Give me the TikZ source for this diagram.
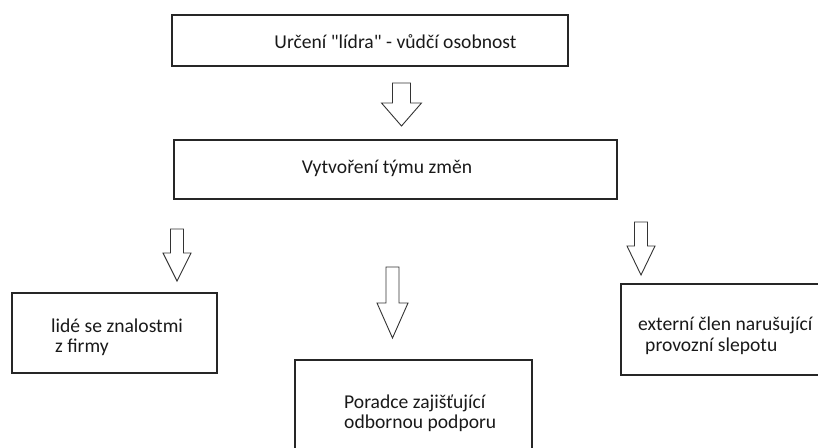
\documentclass[tikz,border=0pt]{standalone}
\usepackage{fontspec}
\setmainfont{Carlito}[Ligatures=TeXOff]
\begin{document}
\begin{tikzpicture}[x=1pt,y=-1pt,
  box/.style={draw=black!85, line width=1.1pt, inner sep=0pt},
  txt/.style={inner sep=0pt, anchor=base west, text=black!90, align=left,
    font=\fontsize{19.6}{19.5}\selectfont},
  blockarrow/.style={draw=black!80, line width=0.9pt, fill=white, line join=miter}]
\useasboundingbox (0,0) rectangle (818,447);
\clip (0,0) rectangle (818,447);

% boxes
\node[box, minimum width=396pt, minimum height=51pt] (lead) at (370,40.5) {};
\node[box, minimum width=443pt, minimum height=59pt] (team) at (395.5,169.5) {};
\node[box, minimum width=205pt, minimum height=80pt] (inner) at (114.5,333) {};
\node[box, minimum width=237pt, minimum height=110pt] (advisor) at (413.5,415) {};
\node[box, minimum width=230pt, minimum height=91pt] (external) at (736,329.5) {};

% labels (multi-line labels are placed by the baseline of their last line)
\node[txt, anchor=base] (leadtxt) at (395.5,48) {Určení "lídra" - vůdčí osobnost};
\node[txt, anchor=base] (teamtxt) at (387,173) {Vytvoření týmu změn};
\node[txt] (innertxt) at (51,352) {lidé se znalostmi\\\hspace*{4pt}z firmy};
\node[txt, font=\fontsize{19.6}{20}\selectfont] (advisortxt) at (344,428) {Poradce zajišťující\\odbornou podporu};
\node[txt, font=\fontsize{19.6}{21}\selectfont] (externaltxt) at (638,351) {externí člen narušující\\\hspace*{7pt}provozní slepotu};

% hollow block arrows: centre x, shaft half width, head half width, top, head start, tip
\newcommand{\downblock}[6]{%
  \draw[blockarrow] (#1-#2,#4) -- (#1-#2,#5) -- (#1-#3,#5) -- (#1,#6)
    -- (#1+#3,#5) -- (#1+#2,#5) -- (#1+#2,#4) -- cycle;}
\downblock{401.5}{9}{20}{83}{103}{126}
\downblock{177}{6.5}{14}{229}{253}{281}
\downblock{392.5}{6.5}{15.5}{267}{303}{338}
\downblock{641}{6.5}{14}{222}{246}{275}
\end{tikzpicture}
\end{document}
